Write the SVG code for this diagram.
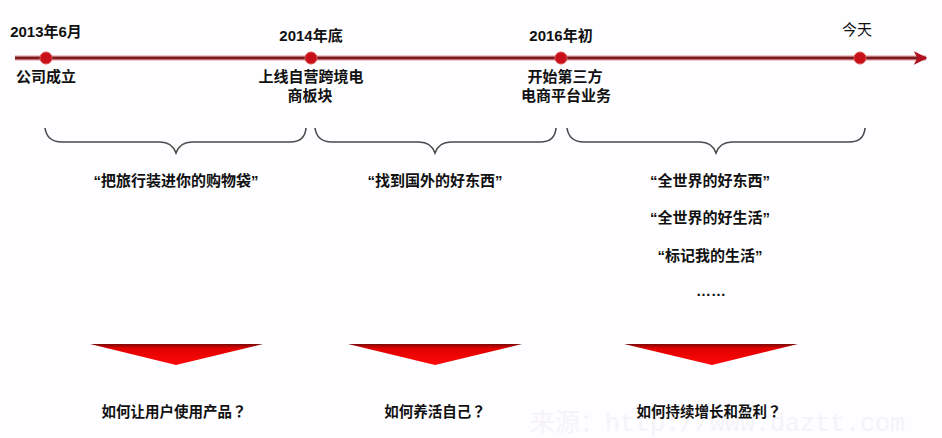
<svg xmlns="http://www.w3.org/2000/svg" width="942" height="438" viewBox="0 0 942 438">
<defs>
<style>
text{font-family:"Liberation Sans","Noto Sans CJK SC",sans-serif;font-size:15px;font-weight:bold;fill:#111;text-anchor:middle}
.date{font-size:15px}
.q{font-family:"Noto Sans CJK SC","Liberation Sans",sans-serif;font-size:14.5px}
.qm{font-family:"Noto Sans CJK TC","Noto Sans CJK JP",sans-serif}
.brace{fill:none;stroke:#4a4a4a;stroke-width:1.6}
.dot{fill:#c8101a;stroke:#e05050;stroke-width:1}
.tri{fill:url(#tg)}
.wm{font-family:"Liberation Mono","Noto Sans CJK SC",monospace;font-size:25px;font-weight:normal;fill:#f6f3f7;text-anchor:start}
</style>
<linearGradient id="tg" x1="0" y1="0" x2="0" y2="1">
<stop offset="0" stop-color="#7a0a0a"/>
<stop offset="0.2" stop-color="#e00000"/>
<stop offset="1" stop-color="#ff0a0a"/>
</linearGradient>
<marker id="arr" viewBox="0 0 10 10" refX="9" refY="5" markerWidth="4.5" markerHeight="4.5" orient="auto" markerUnits="strokeWidth">
<path d="M0,0 L10,5 L0,10 L2.5,5 z" fill="#b01020"/>
</marker>
</defs>
<rect width="942" height="438" fill="#fefdff"/>
<text class="wm" x="530" y="431">来源：http://www.daztt.com</text>
<g id="connectors">
<line x1="15" y1="58" x2="926" y2="58" stroke="#f3c8cc" stroke-width="6"/>
<line x1="15" y1="58" x2="926" y2="58" stroke="#7c1a1e" stroke-width="3" marker-end="url(#arr)"/>
<path class="brace" d="M45,128 Q47,142 62,142 L160,142 Q172,142 176,153 Q180,142 192,142 L290,142 Q305,142 306,128"/>
<path class="brace" d="M315,128 Q317,142 332,142 L419,142 Q431,142 435,153 Q439,142 451,142 L540,142 Q555,142 556,128"/>
<path class="brace" d="M567,128 Q569,142 584,142 L700,142 Q712,142 716,153 Q720,142 732,142 L849,142 Q864,142 865,128"/>
</g>
<g id="n2013">
<circle class="dot" cx="46" cy="58" r="6"/>
<text class="date" x="46" y="37">2013年6月</text>
<text x="46" y="82">公司成立</text>
</g>
<g id="n2014">
<circle class="dot" cx="311" cy="58" r="6"/>
<text class="date" x="311" y="41">2014年底</text>
<text x="311" y="82">上线自营跨境电</text>
<text x="310" y="101">商板块</text>
</g>
<g id="n2016">
<circle class="dot" cx="561" cy="58" r="6"/>
<text class="date" x="561" y="41">2016年初</text>
<text x="565" y="82">开始第三方</text>
<text x="566" y="101">电商平台业务</text>
</g>
<g id="ntoday">
<circle class="dot" cx="860" cy="58" r="6"/>
<text x="857" y="35" style="font-weight:normal">今天</text>
</g>
<g id="slogan1">
<text x="176" y="186">“把旅行装进你的购物袋”</text>
</g>
<g id="slogan2">
<text x="435" y="186">“找到国外的好东西”</text>
</g>
<g id="slogan3">
<text x="710" y="186">“全世界的好东西”</text>
<text x="710" y="223">“全世界的好生活”</text>
<text x="710" y="261">“标记我的生活”</text>
<text x="711" y="296">……</text>
</g>
<g id="q1">
<polygon class="tri" points="90,344 263,344 176,365"/>
<text class="q" x="174" y="417">如何让用户使用产品<tspan class="qm">？</tspan></text>
</g>
<g id="q2">
<polygon class="tri" points="348,344 522,344 435,365"/>
<text class="q" x="435" y="417">如何养活自己<tspan class="qm">？</tspan></text>
</g>
<g id="q3">
<polygon class="tri" points="624,344 798,344 712,365"/>
<text class="q" x="709" y="417">如何持续增长和盈利<tspan class="qm">？</tspan></text>
</g>
</svg>
